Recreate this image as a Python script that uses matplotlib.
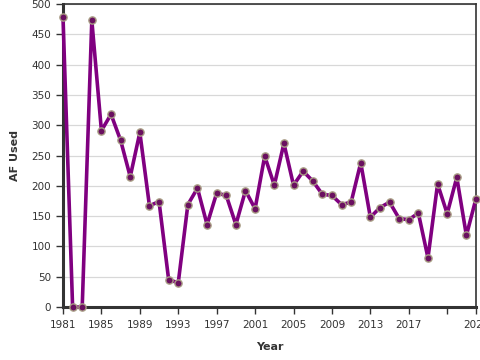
import matplotlib
matplotlib.use("Agg")
import matplotlib.pyplot as plt

# Yearly acre-feet used
years = list(range(1981, 2025))
af_used = [478, 0, 0, 473, 291, 318, 275, 215, 288, 167,
           174, 45, 40, 169, 196, 136, 188, 184, 136, 192,
           162, 249, 201, 270, 201, 224, 208, 186, 184, 169,
           173, 238, 148, 164, 173, 146, 144, 155, 81, 203,
           154, 214, 118, 179]

x_ticks = [1981, 1985, 1989, 1993, 1997, 2001, 2005, 2009, 2013, 2017, 2021, 2024]
x_labels = ["1981", "1985", "1989", "1993", "1997", "2001", "2005", "2009",
            "2013", "2017", "", "2024"]
y_ticks = list(range(0, 501, 50))

fig = plt.figure(figsize=(4.8, 3.6), dpi=100)
ax = fig.add_axes([63 / 480, 1 - 307 / 360, 413 / 480, 303 / 360])

ax.plot(years, af_used, color="#800080", linewidth=2.6, zorder=3,
        marker="o", markersize=5.2, markerfacecolor="#6a1060",
        markeredgecolor="#a89c84", markeredgewidth=1.0, clip_on=False)

ax.set_xlim(1981, 2024)
ax.set_ylim(0, 500)
ax.set_xticks(x_ticks)
ax.set_xticklabels(x_labels)
ax.set_yticks(y_ticks)
ax.grid(axis="y", color="#d8d8d8", linewidth=0.9)
ax.set_axisbelow(True)

for side in ["left", "bottom"]:
    ax.spines[side].set_linewidth(2.2)
    ax.spines[side].set_color("#333333")
for side in ["top", "right"]:
    ax.spines[side].set_linewidth(1.2)
    ax.spines[side].set_color("#333333")

ax.tick_params(axis="both", labelsize=7.5, colors="#333333", length=5, width=1)
ax.tick_params(axis="x", pad=4)

ax.set_xlabel("Year", fontsize=8, fontweight="bold", color="#333333", labelpad=9)
ax.set_ylabel("AF Used", fontsize=8, fontweight="bold", color="#333333", labelpad=8)

fig.savefig("out.png", dpi=100)
